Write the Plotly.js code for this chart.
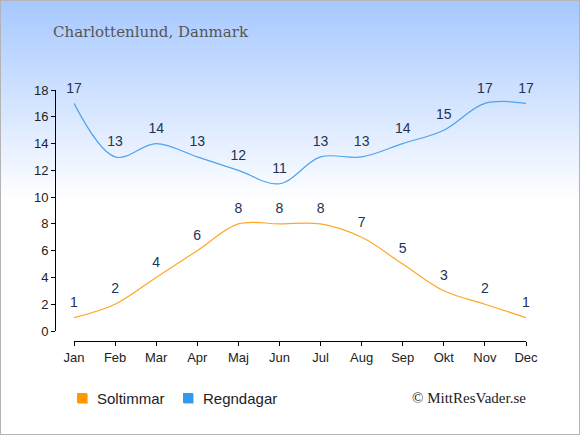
<!DOCTYPE html>
<html>
<head>
<meta charset="utf-8">
<script src="https://cdn.plot.ly/plotly-3.0.1.min.js"></script>
<style>
html,body{margin:0;padding:0;}
#chart{width:578px;height:433px;border:1px solid #b4b4b4;background:linear-gradient(to bottom,#a6c8ff 0px,#ffffff 200px,#ffffff 435px);}
</style>
</head>
<body>
<div id="chart"></div>
<script>
const months = ["Jan","Feb","Mar","Apr","Maj","Jun","Jul","Aug","Sep","Okt","Nov","Dec"];
const soltimmar = [1,2,4,6,8,8,8,7,5,3,2,1];
const regndagar = [17,13,14,13,12,11,13,13,14,15,17,17];
const yTicks = [0,2,4,6,8,10,12,14,16,18];
const legendNames = ["Soltimmar","Regndagar"];
const legendColors = ["#ff9900","#3399ee"];

const W = 578, H = 433;
const idx = months.map((m,i)=>i);
const labelFont = {family:"Liberation Sans, Arial, sans-serif", size:14, color:"#223355"};

function series(name, vals, color){
  return {
    type:"scatter", mode:"lines+markers+text", name:name,
    x: idx, y: vals, text: vals.map(String),
    textposition:"top center", textfont: labelFont,
    line:{color:color, width:1.2, shape:"spline", smoothing:1},
    marker:{size:10, color:"rgba(0,0,0,0)"},
    cliponaxis:false, hoverinfo:"skip", showlegend:false
  };
}

const data = [
  series("Regndagar", regndagar, "#4da3ef"),
  series("Soltimmar", soltimmar, "#ffa726")
];

function px(x){return x/W;}
function py(y){return (H-y)/H;}

const legendX = [76, 182];
const shapes = [];
const annotations = [
  {text:"Charlottenlund, Danmark", xref:"paper", yref:"paper",
   x:px(50), y:py(31), xanchor:"left", yanchor:"middle", showarrow:false,
   font:{family:"DejaVu Serif, Georgia, serif", size:15, color:"#555"}},
  {text:"© MittResVader.se", xref:"paper", yref:"paper",
   x:px(527), y:py(397), xanchor:"right", yanchor:"middle", showarrow:false,
   font:{family:"Liberation Serif, Times New Roman, serif", size:15, color:"#222"}}
];
legendNames.forEach((n,i)=>{
  const x0 = legendX[i];
  shapes.push({type:"rect", xref:"paper", yref:"paper",
    x0:px(x0+1), x1:px(x0+11), y0:py(403), y1:py(393),
    fillcolor:"#cccccc", line:{width:0}, layer:"above"});
  shapes.push({type:"rect", xref:"paper", yref:"paper",
    x0:px(x0), x1:px(x0+10), y0:py(402), y1:py(392),
    fillcolor:legendColors[i], line:{width:0}, layer:"above"});
  annotations.push({text:n, xref:"paper", yref:"paper",
    x:px(x0+18), y:py(397), xanchor:"left", yanchor:"middle", showarrow:false,
    font:{size:15, color:"#222"}});
});

const layout = {
  width:W, height:H,
  margin:{l:0,r:0,t:0,b:0},
  paper_bgcolor:"rgba(0,0,0,0)",
  plot_bgcolor:"rgba(0,0,0,0)",
  font:{family:"Liberation Sans, Arial, sans-serif", size:13, color:"#222"},
  xaxis:{
    domain:[px(73), px(525)], range:[0,11],
    anchor:"free", position:py(340),
    tickvals: idx, ticktext: months,
    showgrid:false, zeroline:false,
    showline:true, linecolor:"#000", linewidth:1,
    ticks:"outside", ticklen:4, tickcolor:"#000",
    tickfont:{size:13, color:"#222"}, fixedrange:true
  },
  yaxis:{
    domain:[py(330), py(89)], range:[0,18],
    anchor:"free", position:px(54),
    tickvals: yTicks,
    showgrid:false, zeroline:false,
    showline:true, linecolor:"#000", linewidth:1,
    ticks:"outside", ticklen:4, tickcolor:"#000",
    tickfont:{size:13, color:"#222"}, fixedrange:true
  },
  shapes: shapes,
  annotations: annotations
};

Plotly.newPlot("chart", data, layout, {displayModeBar:false, staticPlot:true});
</script>
</body>
</html>
